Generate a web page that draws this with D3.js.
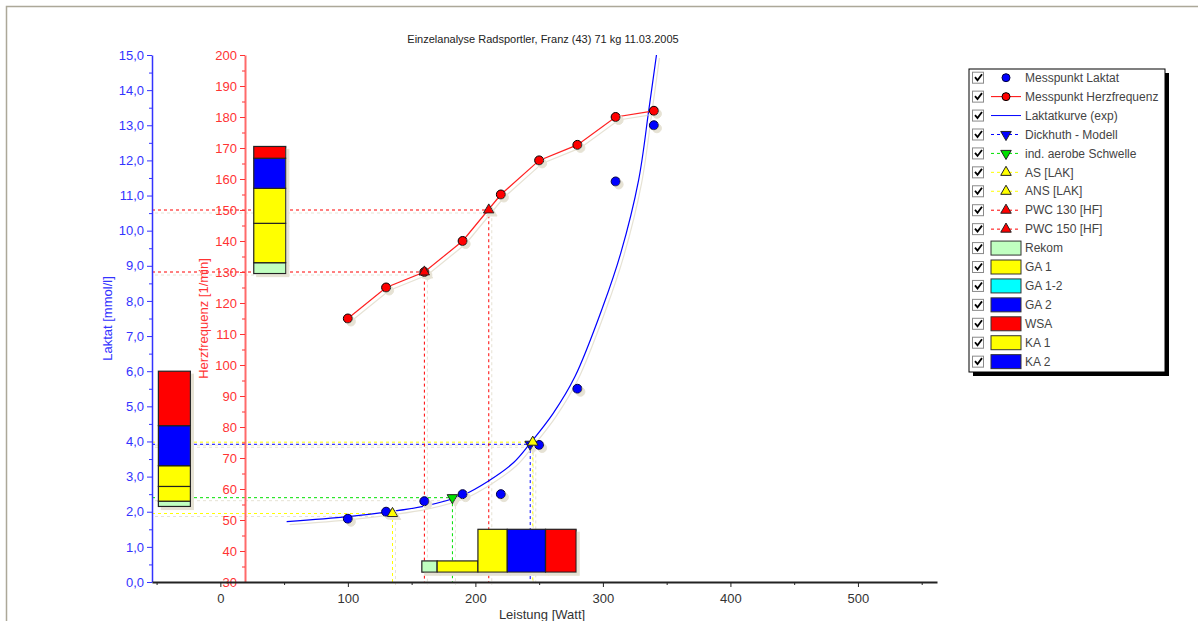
<!DOCTYPE html>
<html>
<head>
<meta charset="utf-8">
<script src="https://cdn.jsdelivr.net/npm/d3@7/dist/d3.min.js"></script>
<style>
  body { margin: 0; background: #fff; }
  svg { display: block; font-family: Arial, "Liberation Sans", sans-serif; }
</style>
</head>
<body>
<svg id="chart" width="1198" height="621"></svg>
<script>
// Messpunkte
const watts = [100, 130, 160, 190, 220, 250, 280, 310, 340];
const lactate = [1.8, 2.0, 2.3, 2.5, 2.5, 3.9, 5.5, 11.4, 13.0];
const heartRate = [115, 125, 130, 140, 155, 166, 171, 180, 182];

// Laktatkurve (exp)
const curveWatts = [52, 100, 130, 160, 190, 210, 230, 243, 261, 278, 300, 314, 328, 336, 342];
const curveLactate = [1.72, 1.86, 1.99, 2.16, 2.47, 2.87, 3.40, 3.95, 4.80, 5.84, 7.84, 9.36, 11.44, 13.44, 15.0];

// Schwellen
const thresholdNames = ['Dickhuth - Modell', 'ind. aerobe Schwelle', 'AS [LAK]', 'ANS [LAK]', 'PWC 130 [HF]', 'PWC 150 [HF]'];
const thresholdWatts = [243, 182, 135, 245, 160, 210.5];
const thresholdValues = [3.92, 2.4, 1.95, 3.98, 130, 150];
const thresholdAxis = ['lac', 'lac', 'lac', 'lac', 'hf', 'hf'];

// Trainingsbereiche
const zoneNames = ['Rekom', 'GA 1', 'GA 1-2', 'GA 2', 'WSA', 'KA 1', 'KA 2'];
const barZones = ['Rekom', 'GA 1', 'KA 1', 'GA 2', 'WSA'];
const lactateZones = [2.15, 2.3, 2.72, 3.31, 4.45, 6.0];
const heartRateZones = [129.5, 133, 145.7, 157, 166.7, 170.5];
const wattZones = [158, 170, 202, 225, 255, 279];
const wattZoneTops = [0.6, 0.6, 1.5, 1.5, 1.5];

const xTicks = [0, 100, 200, 300, 400, 500];

const ZONE_COLORS = {
  'Rekom': '#c0ffc0', 'GA 1': '#ffff00', 'GA 1-2': '#00ffff', 'GA 2': '#0000ff',
  'WSA': '#ff0000', 'KA 1': '#ffff00', 'KA 2': '#0000ff'
};
const THRESH_STYLE = {
  'Dickhuth - Modell': { color: '#0000ff', down: true },
  'ind. aerobe Schwelle': { color: '#00e000', down: true },
  'AS [LAK]': { color: '#ffff00', down: false },
  'ANS [LAK]': { color: '#ffff00', down: false },
  'PWC 130 [HF]': { color: '#ff0000', down: false },
  'PWC 150 [HF]': { color: '#ff0000', down: false }
};
const BLUE = '#3333ff';
const RED = '#ff3333';
const SHADOW = '#e6e2d4';

const svg = d3.select('#chart');

// frame
svg.append('path').attr('d', 'M6.5,621V6.5H1198').attr('fill', 'none')
  .attr('stroke', '#aca899').attr('stroke-width', 1.5);

// shadow filter — solid offset copy like the original control
const filt = svg.append('defs').append('filter').attr('id', 'sh')
  .attr('filterUnits', 'userSpaceOnUse')
  .attr('x', 0).attr('y', 0).attr('width', 1198).attr('height', 621);
filt.append('feOffset').attr('in', 'SourceAlpha').attr('dx', 3).attr('dy', 3).attr('result', 'o');
filt.append('feFlood').attr('flood-color', SHADOW).attr('result', 'f');
filt.append('feComposite').attr('in', 'f').attr('in2', 'o').attr('operator', 'in').attr('result', 's');
const merge = filt.append('feMerge');
merge.append('feMergeNode').attr('in', 's');
merge.append('feMergeNode').attr('in', 'SourceGraphic');

const x = d3.scaleLinear().domain([-53.6, 562]).range([152, 937]);
const yLac = d3.scaleLinear().domain([0, 15]).range([582, 55]);
const yHf = d3.scaleLinear().domain([30, 200]).range([582, 55]);

const comma = d => d3.format('.1f')(d).replace('.', ',');

// title
svg.append('text').attr('x', 543).attr('y', 43).attr('text-anchor', 'middle')
  .attr('font-size', 11).attr('fill', '#222')
  .text('Einzelanalyse Radsportler, Franz (43) 71 kg 11.03.2005');

// threshold guide lines (behind the zone bars)
const thresholds = thresholdNames.map((name, i) => ({
  name, w: thresholdWatts[i],
  y: thresholdAxis[i] === 'lac' ? yLac(thresholdValues[i]) : yHf(thresholdValues[i])
}));
const guides = svg.append('g').attr('filter', 'url(#sh)');
thresholds.forEach(t => {
  const c = THRESH_STYLE[t.name].color;
  guides.append('path')
    .attr('d', `M${x.range()[0]},${t.y}H${x(t.w)}V${yLac(0)}`)
    .attr('fill', 'none').attr('stroke', c).attr('stroke-width', 1)
    .attr('stroke-dasharray', '3,3');
});

// axes
function styleAxis(g, color, width) {
  g.selectAll('path.domain').attr('stroke', color).attr('stroke-width', width);
  g.selectAll('.tick line').attr('stroke', color);
  g.selectAll('.tick text').attr('fill', color).attr('font-size', 13)
    .attr('font-family', 'Arial, "Liberation Sans", sans-serif');
}

const lacAxis = svg.append('g').attr('transform', 'translate(152,0)')
  .call(d3.axisLeft(yLac).tickValues(d3.range(0, 15.01, 1)).tickFormat(comma).tickSize(5).tickSizeOuter(0));
styleAxis(lacAxis, BLUE, 1.5);
const lacMinor = svg.append('g').attr('transform', 'translate(152,0)')
  .call(d3.axisLeft(yLac).tickValues(d3.range(0.5, 15, 1)).tickFormat('').tickSize(3));
lacMinor.select('path.domain').remove();
lacMinor.selectAll('.tick line').attr('stroke', BLUE);

const hfAxis = svg.append('g').attr('transform', 'translate(245,0)')
  .call(d3.axisLeft(yHf).tickValues(d3.range(30, 201, 10)).tickSize(5).tickSizeOuter(0));
styleAxis(hfAxis, RED, 1.5);
hfAxis.select('path.domain').attr('stroke', '#ff6a6a').attr('stroke-width', 2);
const hfMinor = svg.append('g').attr('transform', 'translate(245,0)')
  .call(d3.axisLeft(yHf).tickValues(d3.range(35, 200, 10)).tickFormat('').tickSize(3));
hfMinor.select('path.domain').remove();
hfMinor.selectAll('.tick line').attr('stroke', RED);

const xAxis = svg.append('g').attr('transform', 'translate(0,582)')
  .call(d3.axisBottom(x).tickValues(xTicks).tickSize(5).tickSizeOuter(0));
styleAxis(xAxis, '#222', 2);
xAxis.selectAll('.tick text').attr('fill', '#333').attr('y', 12);
const xMinor = svg.append('g').attr('transform', 'translate(0,582)')
  .call(d3.axisBottom(x).tickValues(d3.range(-50, 560, 100)).tickFormat('').tickSize(3));
xMinor.select('path.domain').remove();
xMinor.selectAll('.tick line').attr('stroke', '#222');

// axis titles
svg.append('text').attr('transform', 'translate(112,318.5) rotate(-90)')
  .attr('text-anchor', 'middle').attr('font-size', 13).attr('fill', BLUE).text('Laktat [mmol/l]');
svg.append('text').attr('transform', 'translate(208,318.5) rotate(-90)')
  .attr('text-anchor', 'middle').attr('font-size', 13).attr('fill', RED).text('Herzfrequenz [1/min]');
svg.append('text').attr('x', 542).attr('y', 619).attr('text-anchor', 'middle')
  .attr('font-size', 13).attr('fill', '#333').text('Leistung [Watt]');

// zone bars
const bars = svg.append('g').attr('filter', 'url(#sh)');
const segs = (bounds) => barZones.map((z, i) => ({ z, a: bounds[i], b: bounds[i + 1] }));

bars.selectAll('rect.lac').data(segs(lactateZones)).join('rect').attr('class', 'lac')
  .attr('x', x(-48.6)).attr('width', x(-23.5) - x(-48.6))
  .attr('y', d => yLac(d.b)).attr('height', d => yLac(d.a) - yLac(d.b))
  .attr('fill', d => ZONE_COLORS[d.z]).attr('stroke', '#222').attr('stroke-width', 1.2);

bars.selectAll('rect.hf').data(segs(heartRateZones)).join('rect').attr('class', 'hf')
  .attr('x', x(26.2)).attr('width', x(51.3) - x(26.2))
  .attr('y', d => yHf(d.b)).attr('height', d => yHf(d.a) - yHf(d.b))
  .attr('fill', d => ZONE_COLORS[d.z]).attr('stroke', '#222').attr('stroke-width', 1.2);

bars.selectAll('rect.w').data(barZones.map((z, i) => ({ z, a: wattZones[i], b: wattZones[i + 1], top: wattZoneTops[i] })))
  .join('rect').attr('class', 'w')
  .attr('x', d => x(d.a)).attr('width', d => x(d.b) - x(d.a))
  .attr('y', d => yLac(d.top)).attr('height', d => yLac(0.28) - yLac(d.top))
  .attr('fill', d => ZONE_COLORS[d.z]).attr('stroke', '#222').attr('stroke-width', 1.2);

// curves
const lines = svg.append('g').attr('filter', 'url(#sh)');
lines.append('path')
  .datum(curveWatts.map((w, i) => [w, curveLactate[i]]))
  .attr('d', d3.line().x(d => x(d[0])).y(d => yLac(d[1])).curve(d3.curveCatmullRom))
  .attr('fill', 'none').attr('stroke', '#0000ff').attr('stroke-width', 1.2);
lines.append('path')
  .datum(watts.map((w, i) => [w, heartRate[i]]))
  .attr('d', d3.line().x(d => x(d[0])).y(d => yHf(d[1])))
  .attr('fill', 'none').attr('stroke', '#ff2020').attr('stroke-width', 1.2);

// markers
const marks = svg.append('g').attr('filter', 'url(#sh)');
marks.selectAll('circle.hf').data(watts).join('circle').attr('class', 'hf')
  .attr('cx', d => x(d)).attr('cy', (d, i) => yHf(heartRate[i])).attr('r', 4.5)
  .attr('fill', '#ff0000').attr('stroke', '#000').attr('stroke-width', 1);
marks.selectAll('circle.lac').data(watts).join('circle').attr('class', 'lac')
  .attr('cx', d => x(d)).attr('cy', (d, i) => yLac(lactate[i])).attr('r', 4.5)
  .attr('fill', '#0000ff').attr('stroke', '#000044').attr('stroke-width', 1);

const tri = d3.symbol().type(d3.symbolTriangle).size(48);
marks.selectAll('path.th').data(thresholds).join('path').attr('class', 'th')
  .attr('d', tri)
  .attr('transform', d => `translate(${x(d.w)},${d.y})` + (THRESH_STYLE[d.name].down ? ' rotate(180)' : ''))
  .attr('fill', d => THRESH_STYLE[d.name].color).attr('stroke', '#222').attr('stroke-width', 1);

// legend
const lg = svg.append('g');
const LX = 969, LY = 69, LW = 196, LH = 303, ROW = 18.93;
lg.append('rect').attr('x', LX + 4).attr('y', LY + 4).attr('width', LW).attr('height', LH).attr('fill', '#000');
lg.append('rect').attr('x', LX).attr('y', LY).attr('width', LW).attr('height', LH)
  .attr('fill', '#fff').attr('stroke', '#000').attr('stroke-width', 1);

const legendItems = [
  { label: 'Messpunkt Laktat', kind: 'dot', color: '#0000ff' },
  { label: 'Messpunkt Herzfrequenz', kind: 'linedot', color: '#ff0000' },
  { label: 'Laktatkurve (exp)', kind: 'line', color: '#0000ff' }
].concat(thresholdNames.map(n => ({ label: n, kind: 'thresh', color: THRESH_STYLE[n].color, down: THRESH_STYLE[n].down })))
 .concat(zoneNames.map(z => ({ label: z, kind: 'rect', color: ZONE_COLORS[z] })));

legendItems.forEach((it, i) => {
  const cy = 77.7 + i * ROW;
  const row = lg.append('g');
  row.append('rect').attr('x', 972.5).attr('y', cy - 5.5).attr('width', 11).attr('height', 11)
    .attr('fill', '#fff').attr('stroke', '#8a8a8a');
  row.append('path').attr('d', `M975,${cy - 0.5}l2.5,3l4.5,-6`).attr('fill', 'none')
    .attr('stroke', '#000').attr('stroke-width', 1.8);
  const cx = 1006;
  if (it.kind === 'rect') {
    row.append('rect').attr('x', 991).attr('y', cy - 7).attr('width', 30).attr('height', 14)
      .attr('fill', it.color).attr('stroke', '#333').attr('stroke-width', 1);
  } else {
    if (it.kind !== 'dot') {
      row.append('line').attr('x1', 991).attr('x2', 1021).attr('y1', cy).attr('y2', cy)
        .attr('stroke', it.color).attr('stroke-width', 1)
        .attr('stroke-dasharray', it.kind === 'thresh' ? '3,3' : null);
    }
    if (it.kind === 'dot' || it.kind === 'linedot') {
      row.append('circle').attr('cx', cx).attr('cy', cy).attr('r', 4)
        .attr('fill', it.color).attr('stroke', it.kind === 'dot' ? '#000044' : '#000');
    }
    if (it.kind === 'thresh') {
      row.append('path').attr('d', tri)
        .attr('transform', `translate(${cx},${cy})` + (it.down ? ' rotate(180)' : ''))
        .attr('fill', it.color).attr('stroke', '#222');
    }
  }
  row.append('text').attr('x', 1025).attr('y', cy).attr('dy', '0.35em')
    .attr('font-size', 12).attr('fill', '#444').text(it.label);
});
</script>
</body>
</html>
